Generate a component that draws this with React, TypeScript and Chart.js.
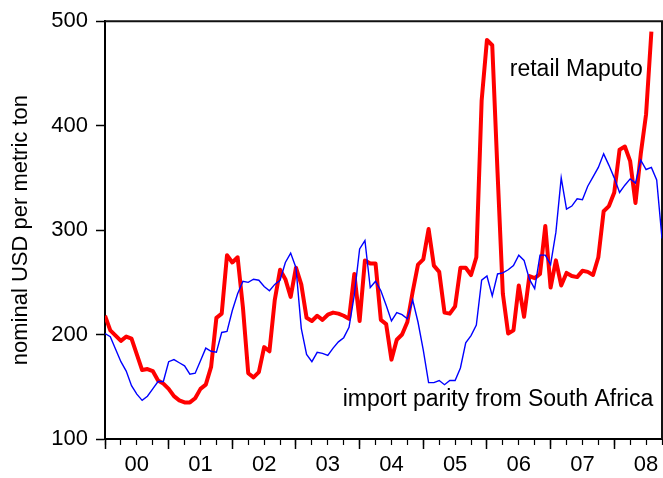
import React, { useEffect, useRef } from "react";
import { Chart, registerables } from "chart.js";

Chart.register(...registerables);

const FONT = "'Liberation Sans', Arial, Helvetica, sans-serif";

// Monthly observations, index 0 = January 2000
const importParity: number[] = [
  201, 198, 186, 174, 165, 151, 143, 137, 141, 148, 155, 155,
  174, 176, 173, 170, 162, 163, 175, 187, 184, 183, 202, 203,
  223, 239, 251, 250, 253, 252, 246, 242, 248, 252, 269, 278,
  264, 206, 181, 174, 183, 182, 180, 187, 193, 197, 207, 238,
  282, 290, 245, 251, 242, 228, 213, 221, 219, 215, 233, 212,
  185, 154, 154, 156, 152, 156, 156, 168, 192, 199, 209, 252,
  256, 237, 258, 259, 262, 266, 276, 271, 253, 244, 276, 276,
  267, 298, 350, 320, 323, 330, 329, 342, 351, 360, 373, 362,
  350, 336, 343, 349, 345, 367, 358, 360, 348, 292,
];

const retailMaputo: number[] = [
  218, 204, 199, 194, 198, 196, 181, 166, 167, 165, 156, 153,
  148, 141, 137, 135, 135, 139, 148, 152, 169, 216, 220, 276,
  269, 274, 226, 163, 159, 164, 188, 184, 233, 262, 253, 236,
  264, 248, 216, 213, 218, 214, 219, 221, 220, 218, 215, 258,
  213, 271, 268, 268, 214, 210, 176, 195, 200, 212, 241, 267,
  272, 301, 266, 260, 221, 220, 227, 264, 264, 257, 274, 424,
  482, 477, 355, 239, 201, 204, 247, 217, 256, 254, 258, 304,
  245, 271, 247, 259, 256, 255, 261, 260, 257, 274, 318, 323,
  336, 377, 380, 366, 326, 373, 411, 490,
];

const yearLabels = ["00", "01", "02", "03", "04", "05", "06", "07", "08"];
const yTickValues = [100, 200, 300, 400, 500];
const xMaxMonth = 105;
const yearTickMonths = [0, 12, 24, 36, 48, 60, 72, 84, 96];
const quarterTickMonths = Array.from({ length: 36 }, (_, k) => k * 3);
const yAxisTitle = "nominal USD per metric ton";
const retailLabel = { text: "retail Maputo", month: 76.3, value: 447.5 };
const parityLabel = { text: "import parity from South Africa", month: 44.8, value: 131.5 };

export default function App() {
  const ref = useRef<HTMLCanvasElement | null>(null);

  useEffect(() => {
    if (!ref.current) return;
    const toXY = (arr: number[]) => arr.map((y, i) => ({ x: i, y }));

    const framePlugin = {
      id: "frame",
      beforeDatasetsDraw(chart: any) {
        const { ctx, chartArea } = chart;
        ctx.save();
        ctx.strokeStyle = "#111";
        ctx.lineWidth = 2;
        ctx.beginPath();
        ctx.moveTo(chartArea.left, chartArea.top);
        ctx.lineTo(chartArea.right, chartArea.top);
        ctx.lineTo(chartArea.right, chartArea.bottom);
        ctx.stroke();
        ctx.restore();
      },
    };

    const textPlugin = {
      id: "seriesText",
      afterDatasetsDraw(chart: any) {
        const { ctx, scales } = chart;
        ctx.save();
        ctx.font = `23px ${FONT}`;
        ctx.fillStyle = "#000";
        ctx.textBaseline = "alphabetic";
        ctx.textAlign = "left";
        for (const l of [retailLabel, parityLabel]) {
          ctx.fillText(l.text, scales.x.getPixelForValue(l.month), scales.y.getPixelForValue(l.value));
        }
        ctx.restore();
      },
    };

    const chart = new Chart(ref.current, {
      type: "line",
      data: {
        datasets: [
          {
            label: parityLabel.text,
            data: toXY(importParity),
            borderColor: "#0000ff",
            borderWidth: 1.4,
            pointRadius: 0,
            tension: 0,
          },
          {
            label: retailLabel.text,
            data: toXY(retailMaputo),
            borderColor: "#ff0000",
            borderWidth: 4,
            borderJoinStyle: "round",
            pointRadius: 0,
            tension: 0,
          },
        ],
      },
      options: {
        animation: false,
        responsive: false,
        layout: { padding: { top: 20, right: 1, left: 0, bottom: 0 } },
        plugins: { legend: { display: false }, tooltip: { enabled: false } },
        scales: {
          xYear: {
            type: "linear",
            position: "bottom",
            weight: 0,
            min: 0,
            max: xMaxMonth,
            afterBuildTicks: (s: any) => {
              s.ticks = yearTickMonths.map((v) => ({ value: v }));
            },
            ticks: { display: false, padding: 0 },
            grid: { drawOnChartArea: false, drawTicks: true, tickLength: 10, tickColor: "#000", tickWidth: 1.5, color: "#000" },
            border: { display: true, color: "#000", width: 2 },
            afterFit: (s: any) => {
              s.height = 0;
            },
          },
          xQuarter: {
            type: "linear",
            position: "bottom",
            weight: 1,
            min: 0,
            max: xMaxMonth,
            afterBuildTicks: (s: any) => {
              s.ticks = quarterTickMonths.map((v) => ({ value: v }));
            },
            ticks: { display: false, padding: 0 },
            grid: { drawOnChartArea: false, drawTicks: true, tickLength: 6, tickColor: "#000", tickWidth: 1.2, color: "#000" },
            border: { display: false },
            afterFit: (s: any) => {
              s.height = 0;
            },
          },
          x: {
            type: "linear",
            position: "bottom",
            weight: 2,
            min: 0,
            max: xMaxMonth,
            afterBuildTicks: (s: any) => {
              s.ticks = yearLabels.map((_, k) => ({ value: 6 + 12 * k }));
            },
            ticks: {
              autoSkip: false,
              maxRotation: 0,
              padding: 0,
              color: "#000",
              font: { family: FONT, size: 22 },
              callback: (_v: any, i: number) => yearLabels[i],
            },
            grid: { display: false, drawTicks: true, tickLength: 13 },
            border: { display: false },
            afterFit: (s: any) => {
              s.height = 39;
            },
          },
          y: {
            type: "linear",
            min: 100,
            max: 500,
            afterBuildTicks: (s: any) => {
              s.ticks = yTickValues.map((v) => ({ value: v }));
            },
            ticks: { padding: 8, color: "#000", font: { family: FONT, size: 22 } },
            grid: { drawOnChartArea: false, drawTicks: true, tickLength: 9, tickColor: "#000", tickWidth: 1.5, color: "#000" },
            border: { display: true, color: "#000", width: 2 },
            title: {
              display: true,
              text: yAxisTitle,
              color: "#000",
              font: { family: FONT, size: 22 },
              padding: { top: 8, bottom: 0 },
            },
            afterFit: (s: any) => {
              s.width = 105;
            },
          },
        },
      } as any,
      plugins: [framePlugin, textPlugin],
    });
    return () => chart.destroy();
  }, []);

  return (
    <div style={{ position: "fixed", left: 0, top: 0, width: 663, height: 478, background: "#fff" }}>
      <canvas ref={ref} width={663} height={478} style={{ width: 663, height: 478, display: "block" }} />
    </div>
  );
}
